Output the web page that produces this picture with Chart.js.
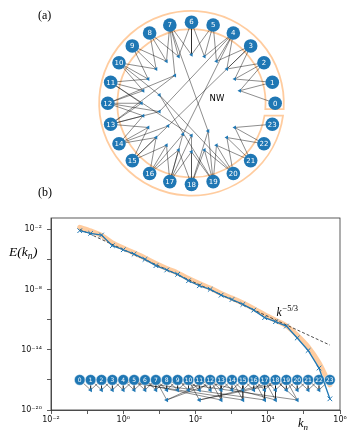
<!DOCTYPE html>
<html>
<head>
<meta charset="utf-8">
<script src="https://cdn.jsdelivr.net/npm/chart.js@4.4.0/dist/chart.umd.min.js"></script>
<style>
  html, body { margin: 0; padding: 0; background: #fff; }
  #wrap { position: relative; width: 357px; height: 438px; }
  #netChart { position: absolute; left: 0; top: 0; }
  #specChart { position: absolute; left: 0; top: 200px; }
</style>
</head>
<body>
<div id="wrap">
  <canvas id="netChart" width="357" height="200"></canvas>
  <canvas id="specChart" width="357" height="238"></canvas>
</div>
<script>
// shells and their wavenumbers k_n
const shellIdx = [0, 1, 2, 3, 4, 5, 6, 7, 8, 9, 10, 11, 12, 13, 14, 15, 16, 17, 18, 19, 20, 21, 22, 23];
const kn = [0.0625, 0.125, 0.25, 0.5, 1, 2, 4, 8, 16, 32, 64, 128, 256, 512, 1024, 2048,
            4096, 8192, 16384, 32768, 65536, 131072, 262144, 524288];

// spectrum E(k_n): network model (blue) and reference (orange)
const energyNet = [7.4e-3, 4.0e-3, 2.7e-3, 2.4e-4, 9.3e-5, 3.4e-5, 1.02e-5, 2.4e-6, 8.9e-7, 3.3e-7,
                   7.6e-8, 2.4e-8, 1.05e-8, 2.75e-9, 1.02e-9, 3.3e-10, 8.9e-11, 1.6e-11, 6.3e-12,
                   2.3e-12, 1.5e-13, 8.5e-15, 1.5e-16, 1.3e-19];
const energyRef = [1.58e-2, 7.1e-3, 2.5e-3, 4.5e-4, 1.4e-4, 4.5e-5, 1.4e-5, 4.0e-6, 1.26e-6, 4.5e-7,
                   1.26e-7, 4.0e-8, 1.4e-8, 4.0e-9, 1.4e-9, 4.5e-10, 1.26e-10, 3.2e-11, 8.9e-12,
                   2.5e-12, 2.8e-13, 2.0e-14, 5.0e-16, 3.2e-18];

// k^-5/3 guide line end points
const slopeK = [0.0625, 524288];
const slopeE = [1e-2, 2.95e-14];

// triads: local ones join n-1, n, n+1; nonlocal ones listed with their members
const localTriads = [1, 2, 3, 4, 5, 6, 7, 8, 9, 10, 11, 12, 13, 14, 15, 16, 17, 18, 19, 20, 21, 22];
const nonlocalPos = [8, 11, 13, 15, 17, 18, 20];
const nonlocalMembers = [[7, 12, 13], [10, 19, 20], [4, 12, 13], [3, 14, 15], [4, 16, 17], [11, 17, 18], [7, 18, 19]];

// axis ticks
const xTickVals = [1e-2, 1e-1, 1e0, 1e1, 1e2, 1e3, 1e4, 1e5, 1e6];
const xTickLabelled = [-2, 0, 2, 4, 6];
const yTickVals = [1e-20, 1e-17, 1e-14, 1e-11, 1e-8, 1e-5, 1e-2];
const yTickLabelled = [-20, -14, -8, -2];

// ---- layout constants ----
const BLUE = '#1f77b4';
const EDGE = 'rgba(0,0,0,0.75)';
const RING = 'rgba(255,127,14,0.4)';
const CX = 192, CY = 103.5;          // ring centre inside the top canvas
const NODE_R = 87, LOCAL_R = 52, NONLOCAL_R = 34.5, STEP_DEG = 15;
const RING_OUT = 96, RING_IN = 77, CUT_TOP = -6, CUT_BOT = -12.8;
const ROW_NODES = 1e-17, ROW_LOCAL = 1e-18, ROW_NONLOCAL = 1e-19;

const SUP = {'-': '⁻', '0': '⁰', '1': '¹', '2': '²', '3': '³', '4': '⁴', '5': '⁵', '6': '⁶', '7': '⁷', '8': '⁸', '9': '⁹'};
function pow10Label(v) {
    const e = Math.round(Math.log10(v));
    return '10' + String(e).split('').map(c => SUP[c]).join('');
}

function onRing(idx, r) {
    const a = idx * STEP_DEG * Math.PI / 180;
    return {x: r * Math.cos(a), y: r * Math.sin(a)};
}

// edges as one polyline with gaps
const GAP = {x: null, y: null};
function buildEdges(nodePt, localPt, nonlocalPt) {
    const out = [];
    localTriads.forEach(t => {
        [t - 1, t, t + 1].forEach(m => out.push(nodePt(m), localPt(t), GAP));
    });
    nonlocalPos.forEach((p, i) => {
        nonlocalMembers[i].forEach(m => out.push(nodePt(m), nonlocalPt(p), GAP));
    });
    return out;
}

// ================= (a) network on a ring =================
const ringOutline = {
    id: 'ringOutline',
    beforeDatasetsDraw(chart) {
        const {ctx, scales: {x, y}} = chart;
        const cx = x.getPixelForValue(0), cy = y.getPixelForValue(0);
        const u = x.getPixelForValue(1) - cx;
        const to1 = Math.asin(CUT_TOP / RING_OUT);
        const to2 = 2 * Math.PI + Math.asin(CUT_BOT / RING_OUT);
        const ti1 = Math.asin(CUT_TOP / RING_IN);
        const ti2 = 2 * Math.PI + Math.asin(CUT_BOT / RING_IN);
        ctx.save();
        ctx.strokeStyle = RING;
        ctx.lineWidth = 1.8;
        ctx.beginPath();
        ctx.arc(cx, cy, RING_OUT * u, -to1, -to2, true);
        ctx.lineTo(cx + RING_IN * u * Math.cos(ti2), cy - RING_IN * u * Math.sin(ti2));
        ctx.arc(cx, cy, RING_IN * u, -ti2, -ti1, false);
        ctx.closePath();
        ctx.stroke();
        ctx.restore();
    }
};

const netText = {
    id: 'netText',
    afterDatasetsDraw(chart) {
        const ctx = chart.ctx;
        ctx.save();
        ctx.fillStyle = '#fff';
        ctx.font = '7px "DejaVu Sans"';
        ctx.textAlign = 'center';
        ctx.textBaseline = 'middle';
        chart.getDatasetMeta(0).data.forEach((el, i) => {
            ctx.fillText(String(shellIdx[i]), el.x, el.y + 0.5);
        });
        ctx.fillStyle = '#000';
        ctx.font = '8.5px "DejaVu Sans"';
        ctx.fillText('NW', 217, 98.5);
        ctx.font = '12px "Liberation Serif"';
        ctx.textAlign = 'left';
        ctx.textBaseline = 'alphabetic';
        ctx.fillText('(a)', 38, 19);
        ctx.fillText('(b)', 38, 195.5);
        ctx.restore();
    }
};

new Chart(document.getElementById('netChart'), {
    type: 'scatter',
    data: {
        datasets: [
            {
                data: shellIdx.map(n => onRing(n, NODE_R)),
                backgroundColor: BLUE, borderWidth: 0, pointRadius: 6.8, order: 0
            },
            {
                data: localTriads.map(t => onRing(t, LOCAL_R)),
                backgroundColor: BLUE, borderColor: BLUE, pointStyle: 'triangle', rotation: -90,
                pointRadius: 2.3, borderWidth: 0, order: 1
            },
            {
                data: nonlocalPos.map(p => onRing(p, NONLOCAL_R)),
                backgroundColor: BLUE, borderColor: BLUE, pointStyle: 'triangle', rotation: -90,
                pointRadius: 2.3, borderWidth: 0, order: 1
            },
            {
                data: buildEdges(n => onRing(n, NODE_R), t => onRing(t, LOCAL_R), p => onRing(p, NONLOCAL_R)),
                showLine: true, spanGaps: false, pointRadius: 0, borderColor: EDGE, borderWidth: 0.6, order: 2
            }
        ]
    },
    options: {
        responsive: false,
        animation: false,
        layout: {padding: 0},
        plugins: {legend: {display: false}, tooltip: {enabled: false}},
        scales: {
            x: {type: 'linear', display: false, min: -CX, max: 357 - CX},
            y: {type: 'linear', display: false, min: -(200 - CY), max: CY}
        }
    },
    plugins: [ringOutline, netText]
});

// ================= (b) spectrum =================
function drawScript(ctx, x, y, base, script, size, shift, family) {
    ctx.font = 'italic ' + size + 'px ' + family;
    ctx.fillText(base, x, y);
    const w = ctx.measureText(base).width;
    ctx.font = (script.italic ? 'italic ' : '') + script.size + 'px ' + family;
    ctx.fillText(script.text, x + w + (script.dx || 0), y + shift);
    return x + w + (script.dx || 0) + ctx.measureText(script.text).width;
}

const specText = {
    id: 'specText',
    afterDatasetsDraw(chart) {
        const {ctx, chartArea: a} = chart;
        ctx.save();
        // frame
        ctx.strokeStyle = '#333';
        ctx.lineWidth = 0.8;
        ctx.strokeRect(a.left, a.top, a.right - a.left, a.bottom - a.top);
        // node labels
        ctx.fillStyle = '#fff';
        ctx.font = '6px "DejaVu Sans"';
        ctx.textAlign = 'center';
        ctx.textBaseline = 'middle';
        chart.getDatasetMeta(3).data.forEach((el, i) => {
            ctx.fillText(String(shellIdx[i]), el.x, el.y + 0.5);
        });
        // axis titles
        ctx.fillStyle = '#000';
        ctx.textAlign = 'left';
        ctx.textBaseline = 'alphabetic';
        const fam = '"Liberation Serif"';
        let xe = drawScript(ctx, 9, 56, 'E(k', {text: 'n', size: 9.5, italic: true}, 13.5, 3, fam);
        ctx.font = 'italic 13.5px ' + fam;
        ctx.fillText(')', xe + 0.5, 56);
        drawScript(ctx, 298, 227, 'k', {text: 'n', size: 9, italic: true}, 12.5, 3, fam);
        drawScript(ctx, 276.5, 116, 'k', {text: '−5/3', size: 8.5, italic: false, dx: 0.8}, 11.5, -5, fam);
        ctx.restore();
    }
};

const axisCommon = {
    type: 'logarithmic',
    grid: {drawOnChartArea: false, drawTicks: true, tickLength: 4, tickWidth: 0.8, tickColor: '#333'},
    border: {display: true, color: '#333', width: 0.8}
};

new Chart(document.getElementById('specChart'), {
    type: 'scatter',
    data: {
        datasets: [
            {   // blue spectrum
                data: kn.map((k, i) => ({x: k, y: energyNet[i]})),
                showLine: true, borderColor: BLUE, borderWidth: 1.3,
                pointStyle: 'crossRot', pointRadius: 3.3, pointBorderColor: BLUE, pointBorderWidth: 1,
                order: 0
            },
            {   // local triad markers
                data: localTriads.map(t => ({x: kn[t], y: ROW_LOCAL})),
                backgroundColor: BLUE, borderWidth: 0, pointStyle: 'triangle', rotation: -90,
                pointRadius: 2.6, order: 2
            },
            {   // nonlocal triad markers
                data: nonlocalPos.map(p => ({x: kn[p], y: ROW_NONLOCAL})),
                backgroundColor: BLUE, borderWidth: 0, pointStyle: 'triangle', rotation: -90,
                pointRadius: 2.6, order: 2
            },
            {   // shell nodes
                data: kn.map(k => ({x: k, y: ROW_NODES})),
                backgroundColor: BLUE, borderColor: '#fff', borderWidth: 0.5, pointRadius: 5.4, order: 1
            },
            {   // network edges
                data: buildEdges(n => ({x: kn[n], y: ROW_NODES}), t => ({x: kn[t], y: ROW_LOCAL}),
                                 p => ({x: kn[p], y: ROW_NONLOCAL})),
                showLine: true, spanGaps: false, pointRadius: 0, borderColor: EDGE, borderWidth: 0.6, order: 3
            },
            {   // k^-5/3
                data: slopeK.map((k, i) => ({x: k, y: slopeE[i]})),
                showLine: true, pointRadius: 0, borderColor: '#222', borderWidth: 0.8, borderDash: [3, 2], order: 4
            },
            {   // reference spectrum
                data: kn.map((k, i) => ({x: k, y: energyRef[i]})),
                showLine: true, pointRadius: 0, borderColor: RING, borderWidth: 5, tension: 0.25,
                borderCapStyle: 'round', order: 5
            }
        ]
    },
    options: {
        responsive: false,
        animation: false,
        layout: {padding: {left: 0, right: 17, top: 18, bottom: 0}},
        plugins: {legend: {display: false}, tooltip: {enabled: false}},
        scales: {
            x: Object.assign({}, axisCommon, {
                min: 1e-2, max: 1e6,
                afterBuildTicks: s => { s.ticks = xTickVals.map(v => ({value: v})); },
                afterFit: s => { s.height = 28; },
                ticks: {
                    autoSkip: false, maxRotation: 0, padding: 1, color: '#111',
                    font: {family: 'DejaVu Sans', size: 8},
                    callback: v => xTickLabelled.includes(Math.round(Math.log10(v))) ? pow10Label(v) : ''
                }
            }),
            y: Object.assign({}, axisCommon, {
                min: 1e-20, max: 0.135,
                afterBuildTicks: s => { s.ticks = yTickVals.map(v => ({value: v})); },
                afterFit: s => { s.width = 51; },
                ticks: {
                    autoSkip: false, padding: 5, color: '#111',
                    font: {family: 'DejaVu Sans', size: 8},
                    callback: v => yTickLabelled.includes(Math.round(Math.log10(v))) ? pow10Label(v) : ''
                }
            })
        }
    },
    plugins: [specText]
});
</script>
</body>
</html>
